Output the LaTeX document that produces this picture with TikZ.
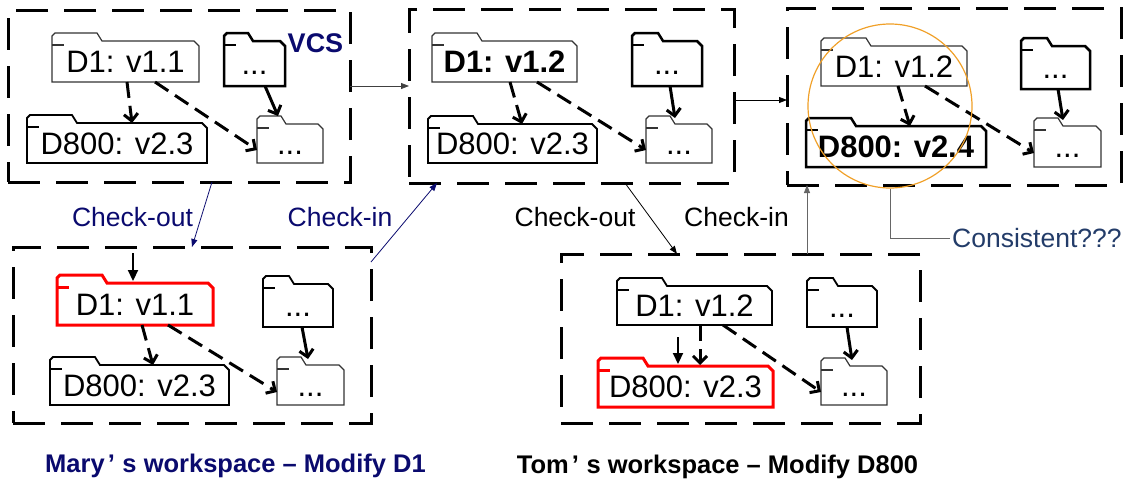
\documentclass[tikz,border=0pt]{standalone}
\usepackage{fontspec}
\setmainfont{Liberation Sans}
\usetikzlibrary{arrows.meta,calc}
\definecolor{navy}{RGB}{10,10,110}
\definecolor{ringor}{RGB}{240,160,40}
\definecolor{consblue}{RGB}{35,60,105}
\tikzset{
 wsbox/.style={draw, line width=3pt, dash pattern=on 32pt off 16pt, inner sep=0, outer sep=0},
 fbox/.style={inner sep=0, outer sep=0, text height=22pt, text depth=0pt, font=\fontsize{31}{31}\selectfont},
 fthin/.style={draw=black!80, line width=1.2pt},
 fmed/.style={draw=black, line width=1.8pt},
 fthick/.style={draw=black, line width=2.5pt},
 fred/.style={draw=red, line width=3pt},
 dep/.style={line width=3pt, dash pattern=on 16pt off 8pt, -{Straight Barb[length=7pt,width=14pt]}},
 sdep/.style={line width=3pt, -{Straight Barb[length=7pt,width=14pt]}},
 entry/.style={line width=2.2pt, -{Triangle[length=11pt,width=10pt]}},
 flow/.style={line width=0.8pt, -{Triangle[length=8pt,width=6pt]}},
 lbl/.style={font=\fontsize{26.5}{26.5}\selectfont, inner sep=0, anchor=base},
 ttl/.style={font=\bfseries\fontsize{25.5}{25.5}\selectfont, inner sep=0, anchor=base},
}
\newcommand\fld[8]{%
 \node[fbox, minimum width=#4pt, minimum height=#5pt] (#1) at (#2,#3) {#8};
 \draw[#7] (#1.south west) -- ([yshift=5pt]#1.north west) -- ([xshift=3pt,yshift=8pt]#1.north west)
   -- ([xshift=#6pt,yshift=8pt]#1.north west) -- ([xshift={#6pt+5pt}]#1.north west)
   -- ([xshift=-5pt]#1.north east) -- ([yshift=-5pt]#1.north east) -- (#1.south east) -- cycle;
 \draw[#7] ([yshift=-4pt]#1.north west) -- ++(12pt,0);
}
\begin{document}
\begin{tikzpicture}[x=1pt,y=-1pt]
\useasboundingbox (0,0) rectangle (1125,482);
% workspace boxes
\node[wsbox, minimum width=342pt, minimum height=172pt] (B1) at (179,96) {};
\node[wsbox, minimum width=325pt, minimum height=174pt] (B2) at (571.5,96) {};
\node[wsbox, minimum width=334pt, minimum height=177pt] (B3) at (954,96.5) {};
\node[wsbox, minimum width=358pt, minimum height=176pt] (B4) at (192,335) {};
\node[wsbox, minimum width=359pt, minimum height=169pt] (B5) at (740.5,338.5) {};
% box 1
\fld{D1a}{125.5}{61.5}{147}{41}{45}{fthin}{D1: v1.1}
\fld{D8a}{117}{143}{180}{40}{45}{fmed}{D800: v2.3}
\fld{Ua}{254.5}{63.5}{61}{45}{24}{fthick}{...}
\fld{La}{290}{143.5}{66}{39}{24}{fthin}{...}
\draw[dep] ([xshift=1.5pt]D1a.south) -- ([xshift=15pt]D8a.north);
\draw[dep] ([xshift=29.5pt]D1a.south) -- ([yshift=-6.5pt]La.west);
\draw[sdep] ([xshift=10.5pt]Ua.south) -- ([xshift=-12pt,yshift=8pt]La.north);
\node[font=\bfseries\fontsize{27}{27}\selectfont, text=navy, inner sep=0, anchor=base] (vcs) at (315.5,52) {VCS};
% box 2
\fld{D1b}{504.5}{61.5}{145}{41}{45}{fthin}{\bfseries D1: v1.2}
\fld{D8b}{512.5}{143.5}{169}{39}{45}{fmed}{D800: v2.3}
\fld{Ub}{667}{63.5}{70}{45}{26}{fthick}{...}
\fld{Lb}{679}{143.5}{66}{39}{24}{fthin}{...}
\draw[dep] ([xshift=5.5pt]D1b.south) -- ([xshift=9.5pt]D8b.north);
\draw[dep] ([xshift=32.5pt]D1b.south) -- ([yshift=-6.5pt]Lb.west);
\draw[sdep] ([xshift=3pt]Ub.south) -- ([xshift=-4pt,yshift=6pt]Lb.north);
% box 3
\fld{D1c}{894}{66}{146}{40}{45}{fthin}{D1: v1.2}
\fld{D8c}{896}{146.5}{180}{41}{45}{fthick}{\bfseries D800: v2.4}
\fld{Uc}{1055.5}{67.5}{69}{43}{26}{fthick}{...}
\fld{Lc}{1067.5}{146.5}{67}{41}{24}{fthin}{...}
\draw[dep] ([xshift=4pt]D1c.south) -- ([xshift=14pt]D8c.north);
\draw[dep] ([xshift=31pt]D1c.south) -- ([yshift=-6.5pt]Lc.west);
\draw[sdep] ([xshift=2.5pt]Uc.south) -- ([xshift=-4.5pt,yshift=6pt]Lc.north);
% box 4 (Mary)
\fld{D1d}{135}{304}{156}{42}{45}{fred}{D1: v1.1}
\fld{D8d}{139.5}{385}{179}{40}{45}{fmed}{D800: v2.3}
\fld{Ud}{298}{305.5}{70}{43}{26}{fmed}{...}
\fld{Ld}{310.5}{385}{67}{40}{24}{fthin}{...}
\coordinate (inD) at (133,253);
\draw[entry] (inD) -- ([xshift=-2pt,yshift=2pt]D1d.north);
\draw[dep] ([xshift=7pt]D1d.south) -- ([xshift=13.5pt]D8d.north);
\draw[dep] ([xshift=33pt]D1d.south) -- ([yshift=-7pt]Ld.west);
\draw[sdep] ([xshift=4pt]Ud.south) -- ([xshift=-2.5pt,yshift=6pt]Ld.north);
% box 5 (Tom)
\fld{D1e}{694.5}{305.5}{155}{39}{45}{fmed}{D1: v1.2}
\fld{D8e}{685.5}{386.5}{175}{41}{45}{fred}{D800: v2.3}
\fld{Ue}{842}{306.5}{70}{41}{26}{fmed}{...}
\fld{Le}{854}{385.5}{66}{39}{24}{fthin}{...}
\coordinate (inE) at (678,337);
\draw[entry] (inE) -- ([xshift=-7.5pt,yshift=2pt]D8e.north);
\draw[dep] ([xshift=5.5pt]D1e.south) -- ([xshift=14.5pt,yshift=1pt]D8e.north);
\draw[dep] ([xshift=28.5pt]D1e.south) -- ([yshift=-6.5pt]Le.west);
\draw[sdep] ([xshift=5pt]Ue.south) -- ([xshift=-2pt,yshift=6pt]Le.north);
% flows between boxes
\draw[flow, draw=black!75] ([yshift=10pt]B1.east) -- ([yshift=10pt]B1.east -| B2.west);
\draw[flow] ([yshift=-4pt]B2.east) -- ([yshift=-4pt]B2.east -| B3.west);
\draw[flow, draw=navy] ([xshift=33pt]B1.south) -- (B4.north);
\draw[flow, draw=navy] ([yshift=-15pt]B4.north east) -- ([xshift=28pt]B2.south west);
\draw[flow] ([xshift=53.5pt]B2.south) -- ([xshift=-63.5pt]B5.north);
\draw[flow, draw=black!60] ([xshift=66.5pt]B5.north) -- ([xshift=66.5pt]B5.north |- B3.south);
% labels
\node[lbl, text=navy] (co1) at (132.5,226) {Check-out};
\node[lbl, text=navy] (ci1) at (340,226) {Check-in};
\node[lbl] (co2) at (575,226) {Check-out};
\node[lbl] (ci2) at (736.5,226) {Check-in};
\node[ttl, text=navy] (t1) at (235.5,472) {Mary\kern.12em’\kern.3em s workspace – Modify D1};
\node[ttl] (t2) at (717.5,473) {Tom\kern.12em’\kern.3em s workspace – Modify D800};
% consistency check
\node[draw=ringor, line width=1.2pt, circle, minimum size=164pt, inner sep=0] (ring) at (890,106) {};
\node[font=\fontsize{26.5}{26.5}\selectfont, text=consblue, anchor=west, inner sep=2pt] (cons) at (950,238.5) {Consistent???};
\draw[black!60, line width=0.9pt] (ring.south) |- (cons.west);
\end{tikzpicture}
\end{document}
